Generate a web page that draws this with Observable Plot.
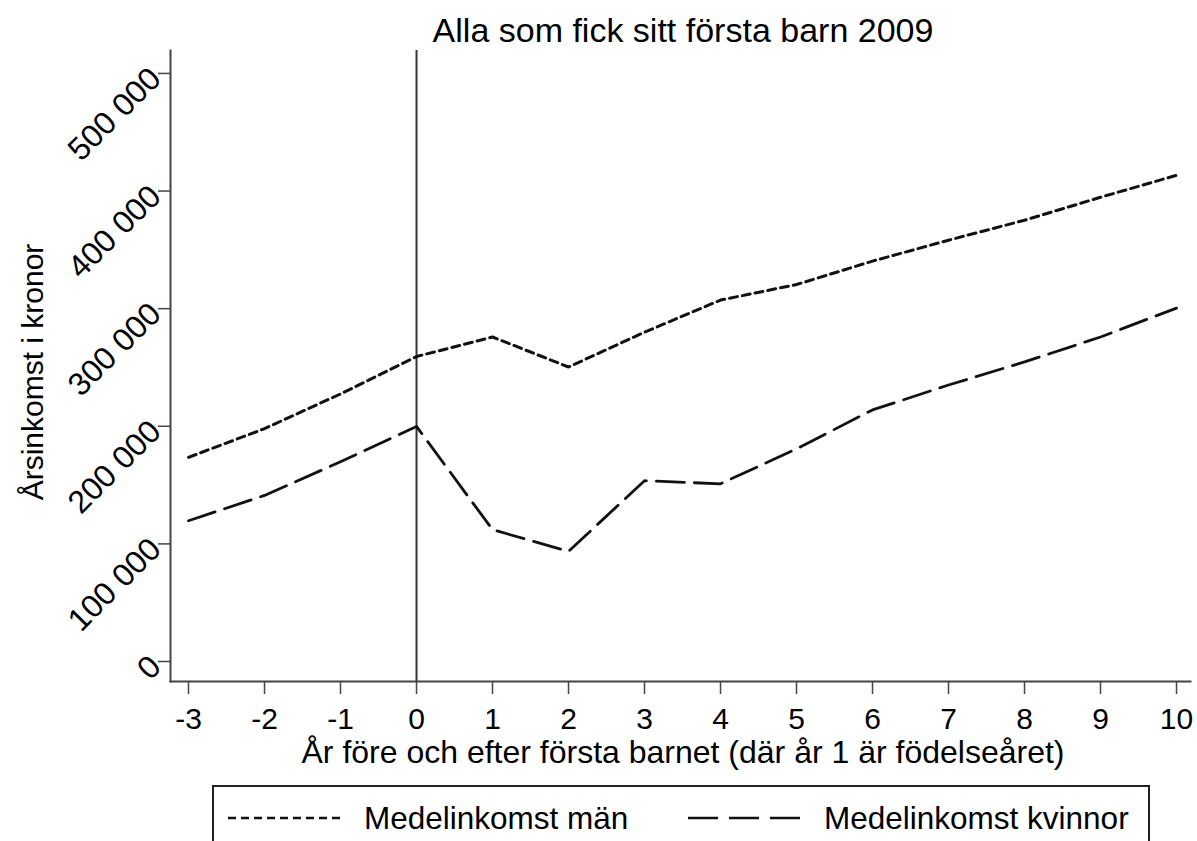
<!DOCTYPE html>
<html><head><meta charset="utf-8">
<script src="https://cdn.jsdelivr.net/npm/d3@7"></script>
<script src="https://cdn.jsdelivr.net/npm/@observablehq/plot@0.6"></script>
<style>
html,body{margin:0;padding:0;background:#fff;}
body{width:1197px;height:841px;position:relative;overflow:hidden;font-family:"Liberation Sans",Arial,sans-serif;color:#000;}
#title{position:absolute;left:170px;width:1026px;top:8px;text-align:center;font-size:34px;line-height:44px;}
#chart{position:absolute;left:0;top:48px;}
#xlabel{position:absolute;left:170px;width:1026px;top:733px;text-align:center;font-size:32px;line-height:38px;}
#ylabel{position:absolute;left:33px;top:372px;transform:translate(-50%,-50%) rotate(-90deg);white-space:nowrap;font-size:30px;line-height:34px;}
#legend{position:absolute;left:212px;top:785px;width:938px;height:80px;border:2px solid #222;box-sizing:border-box;}
.item{position:absolute;top:12px;display:flex;align-items:center;font-size:31.5px;line-height:38px;}
.item svg{margin-right:22px;}
</style></head><body>
<div id="title">Alla som fick sitt första barn 2009</div>
<div id="chart"></div>
<div id="xlabel">År före och efter första barnet (där år 1 är födelseåret)</div>
<div id="ylabel">Årsinkomst i kronor</div>
<div id="legend"></div>
<script>
const years = [-3,-2,-1,0,1,2,3,4,5,6,7,8,9,10];
const men = [173600,198000,227500,259300,275900,250400,280000,307300,320500,340400,358200,375200,394700,413400];
const women = [119700,141200,169800,199900,112100,93600,153700,151100,180800,213900,235100,254700,275900,300500];
const seriesNames = ["Medelinkomst män","Medelinkomst kvinnor"];
const yTicks = [0,100000,200000,300000,400000,500000];
const xTicks = years;
const dashes = ["8,5","28,10"];

const menRows = years.map((yr,i)=>({year:yr, value:men[i]}));
const womenRows = years.map((yr,i)=>({year:yr, value:women[i]}));
const fmt = d => d3.format(",")(d).replace(/,/g," ");

const plot = Plot.plot({
  width:1197, height:730,
  marginLeft:170, marginRight:7, marginTop:2, marginBottom:97,
  style:{fontFamily:"Liberation Sans, Arial, sans-serif", fontSize:"30px", color:"#000", background:"#fff"},
  x:{domain:[-3.237,10.184]},
  y:{domain:[-17000,519500]},
  marks:[
    Plot.frame({anchor:"left", stroke:"#444", strokeWidth:2}),
    Plot.frame({anchor:"bottom", stroke:"#444", strokeWidth:2}),
    Plot.axisX({ticks:xTicks, tickSize:13, tickPadding:13, tickFormat:d=>String(d), fontSize:30, label:null, stroke:"#444", strokeWidth:1.5}),
    Plot.axisY({ticks:yTicks, tickSize:12, tickPadding:3, tickRotate:-45, tickFormat:fmt, fontSize:32, label:null, stroke:"#444", strokeWidth:1.5}),
    Plot.ruleX([0], {stroke:"#333", strokeWidth:2}),
    Plot.lineY(menRows, {x:"year", y:"value", stroke:"#111", strokeWidth:3, strokeDasharray:dashes[0]}),
    Plot.lineY(womenRows, {x:"year", y:"value", stroke:"#111", strokeWidth:2.8, strokeDasharray:dashes[1]})
  ]
});
document.getElementById("chart").appendChild(plot);

const leg = document.getElementById("legend");
const lefts = [14, 474];
seriesNames.forEach((name,i)=>{
  const it = document.createElement("div");
  it.className = "item";
  it.style.left = lefts[i] + "px";
  it.innerHTML = `<svg width="114" height="10"><line x1="0" y1="5" x2="114" y2="5" stroke="#111" stroke-width="2.5" stroke-dasharray="${i===0?"8,5":"30,11"}"/></svg><span>${name}</span>`;
  leg.appendChild(it);
});
</script>
</body></html>
